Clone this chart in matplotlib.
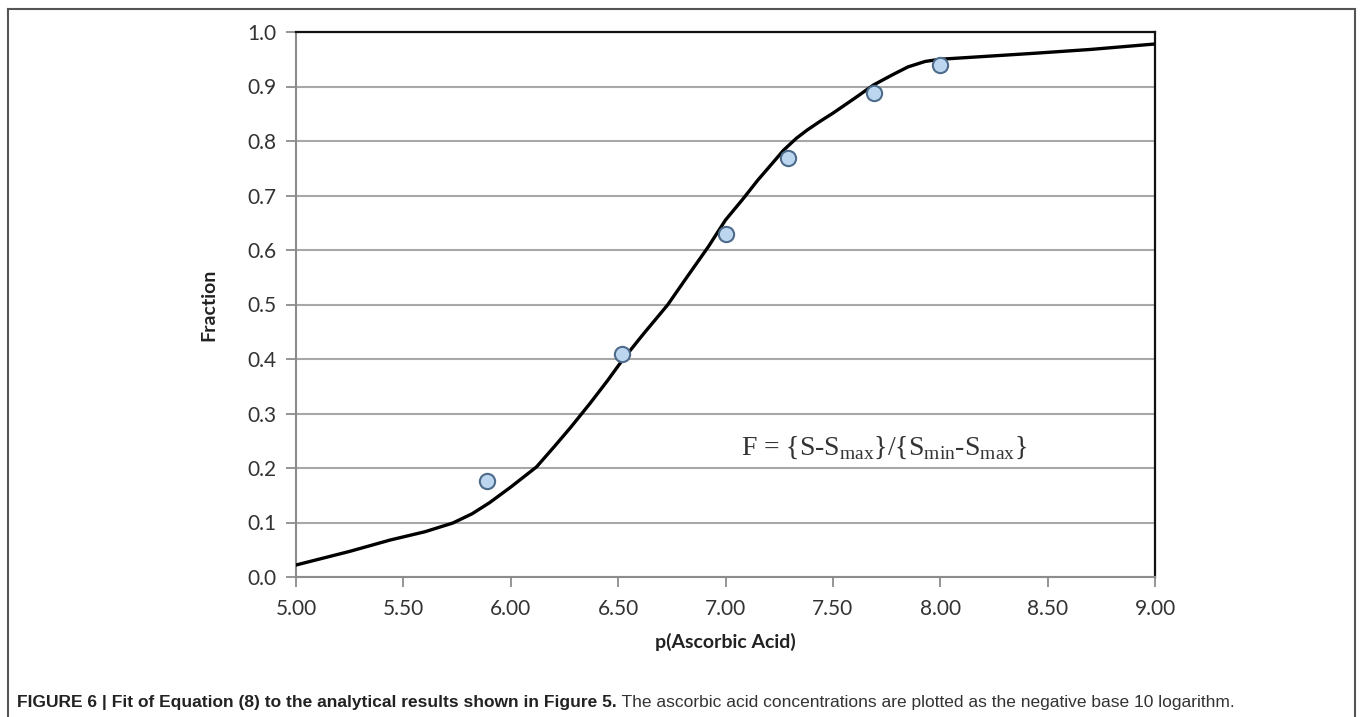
import matplotlib
matplotlib.use('Agg')
import matplotlib.pyplot as plt
from matplotlib.lines import Line2D

# measured data (markers)
p_meas = [5.89, 6.52, 7.00, 7.29, 7.69, 8.00]
f_meas = [0.176, 0.409, 0.629, 0.768, 0.888, 0.940]

# fitted curve
p_fit = [5.00, 5.25, 5.44, 5.60, 5.73, 5.82, 5.90, 6.00, 6.12, 6.20, 6.28, 6.37, 6.45,
         6.52, 6.62, 6.73, 6.82, 6.92, 7.00, 7.08, 7.15, 7.22, 7.27, 7.33, 7.38, 7.44,
         7.50, 7.60, 7.69, 7.78, 7.85, 7.93, 8.00, 8.20, 8.44, 8.70, 9.00]
f_fit = [0.022, 0.047, 0.068, 0.083, 0.099, 0.116, 0.136, 0.165, 0.202, 0.238, 0.275, 0.319, 0.360,
         0.398, 0.447, 0.499, 0.550, 0.606, 0.655, 0.693, 0.728, 0.760, 0.783, 0.805, 0.820, 0.836,
         0.851, 0.878, 0.903, 0.922, 0.936, 0.946, 0.950, 0.955, 0.961, 0.968, 0.978]

x_ticks = [5.0, 5.5, 6.0, 6.5, 7.0, 7.5, 8.0, 8.5, 9.0]
y_ticks = [0.0, 0.1, 0.2, 0.3, 0.4, 0.5, 0.6, 0.7, 0.8, 0.9, 1.0]

plt.rcParams['font.family'] = ['Lato', 'DejaVu Sans']
plt.rcParams['mathtext.fontset'] = 'custom'
plt.rcParams['mathtext.rm'] = 'Liberation Serif'

fig = plt.figure(figsize=(13.6, 7.17), dpi=100)
ax = fig.add_axes([296 / 1360, 1 - 577 / 717, (1155 - 296) / 1360, (577 - 32) / 717])

grey = '#8c8c8c'
ax.set_xlim(5, 9)
ax.set_ylim(0, 1)
ax.set_xticks(x_ticks)
ax.set_yticks(y_ticks)
ax.set_xticklabels([f'{v:.2f}' for v in x_ticks])
ax.set_yticklabels([f'{v:.1f}' for v in y_ticks])
ax.tick_params(direction='out', length=7, width=1.3, color=grey,
               labelsize=15, labelcolor='#333333')
ax.tick_params(axis='x', pad=9)
ax.tick_params(axis='y', pad=7)
ax.yaxis.grid(True, color='#a8a8a8', lw=1.5)
ax.set_axisbelow(True)
for s in ['left', 'bottom']:
    ax.spines[s].set_color(grey)
    ax.spines[s].set_linewidth(1.5)
for s in ['top', 'right']:
    ax.spines[s].set_color('#111111')
    ax.spines[s].set_linewidth(1.6)

ax.plot(p_fit, f_fit, color='black', lw=2.4, zorder=3)
ax.plot(p_meas, f_meas, 'o', ms=11, mfc='#bcd6f0', mec='#4d6b8a', mew=1.5, zorder=4)

ax.set_ylabel('Fraction', fontsize=14, fontweight='bold', color='#222222', labelpad=22)
ax.set_xlabel('p(Ascorbic Acid)', fontsize=14, fontweight='bold', color='#222222', labelpad=10)

ax.text(7.74, 0.237, r'F = {S-S$_{\mathrm{max}}$}/{S$_{\mathrm{min}}$-S$_{\mathrm{max}}$}',
        fontsize=20, family='Liberation Serif', color='#333333', ha='center', va='center')

# outer frame (open at the bottom)
fx0, fx1, fy = 8 / 1360, 1355 / 1360, 1 - 9 / 717
for xs, ys in [([fx0, fx0], [0, fy]), ([fx0, fx1], [fy, fy]), ([fx1, fx1], [fy, 0])]:
    fig.add_artist(Line2D(xs, ys, transform=fig.transFigure, color='#555555', lw=1.5))

cap_font = 'Liberation Sans'
t1 = fig.text(17 / 1360, 1 - 702 / 717,
              'FIGURE 6 | Fit of Equation (8) to the analytical results shown in Figure 5.',
              fontsize=12.5, fontweight='bold', family=cap_font, color='#222222', va='center')
ax.annotate(' The ascorbic acid concentrations are plotted as the negative base 10 logarithm.',
            xy=(1, 0), xycoords=t1, va='bottom', fontsize=12.5, family=cap_font,
            color='#333333', annotation_clip=False)

fig.savefig('out.png', dpi=100)
